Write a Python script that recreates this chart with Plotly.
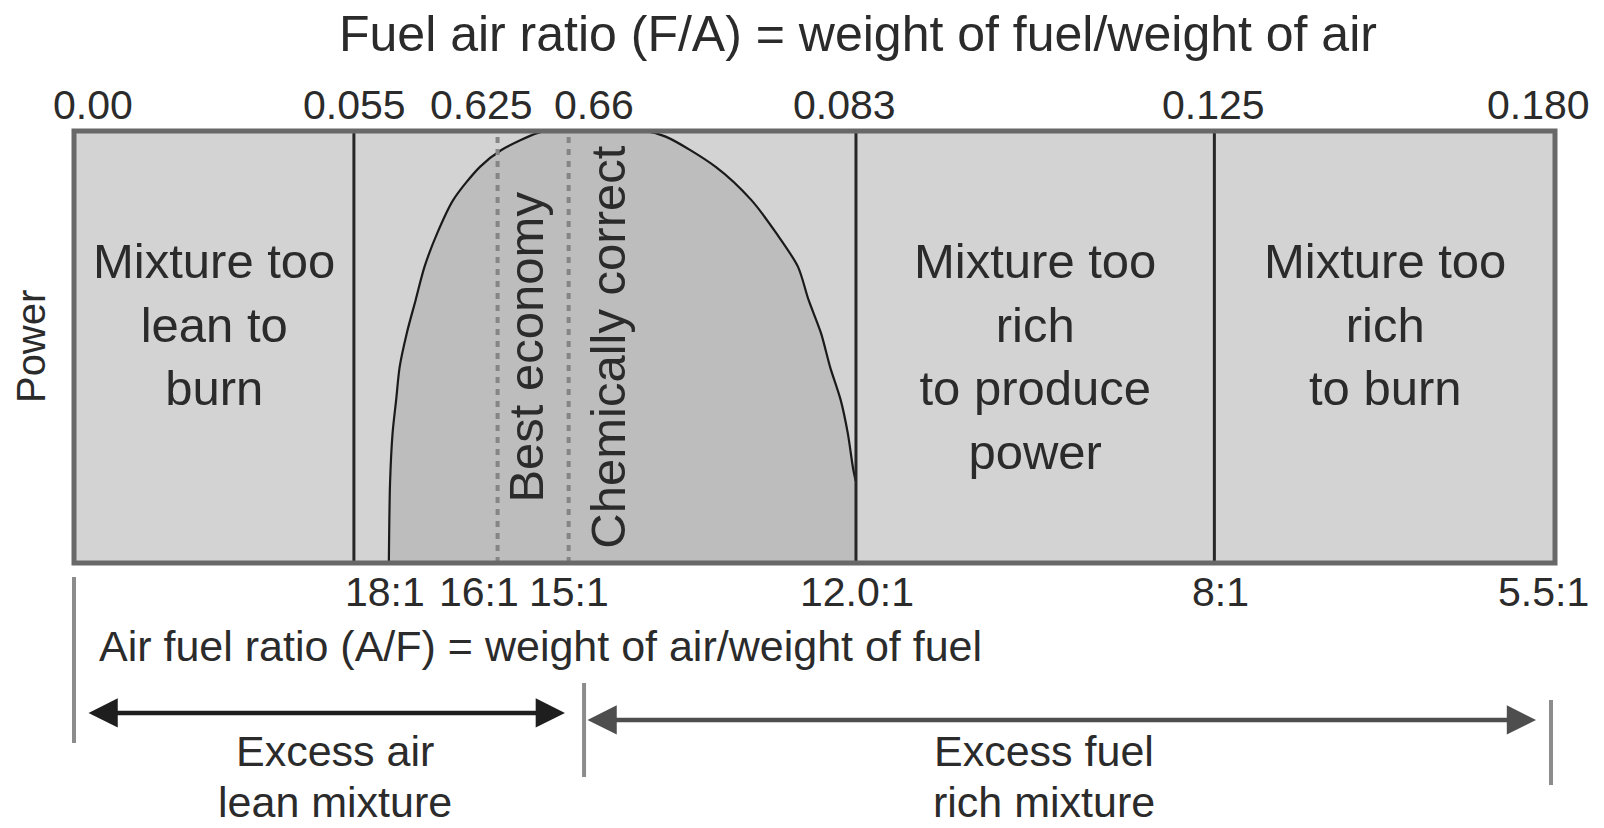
import plotly.graph_objects as go

# ---------------- data ----------------
# zone boundaries along the schematic mixture axis (fraction of the bar width)
boundary_pos = [0.0, 0.189, 0.286, 0.334, 0.528, 0.770, 1.0]
fa_labels = ["0.00", "0.055", "0.625", "0.66", "0.083", "0.125", "0.180"]
af_labels = ["", "18:1", "16:1", "15:1", "12.0:1", "8:1", "5.5:1"]
solid_idx = [1, 4, 5]
dotted_idx = [2, 3]

# power curve (schematic x fraction, relative power)
power_x = [0.2126, 0.2134, 0.2151, 0.2175, 0.2199, 0.2247, 0.2307, 0.2367, 0.2452,
           0.2560, 0.2741, 0.2886, 0.3127, 0.3200, 0.3851, 0.3995, 0.4333, 0.4574,
           0.4743, 0.4888, 0.4960, 0.5044, 0.5105, 0.5177, 0.5225, 0.5260, 0.5278]
power_y = [0.000, 0.185, 0.300, 0.377, 0.454, 0.532, 0.609, 0.686, 0.763,
           0.840, 0.917, 0.956, 0.995, 1.000, 1.000, 0.987, 0.917, 0.840,
           0.763, 0.686, 0.609, 0.532, 0.454, 0.377, 0.300, 0.220, 0.190]

zone_texts = ["Mixture too<br>lean to<br>burn",
              "Mixture too<br>rich<br>to produce<br>power",
              "Mixture too<br>rich<br>to burn"]
zone_bounds = [(0, 1), (4, 5), (5, 6)]
zone_text_y = [0.552, 0.477, 0.551]

line_texts = ["Best economy", "Chemically correct"]

lean_range = [0.0088, 0.3315]
rich_range = [0.3457, 0.9872]
range_texts = [("Excess air", "lean mixture"), ("Excess fuel", "rich mixture")]
range_text_x = [0.1762, 0.655]

# ---------------- style ----------------
FONT = "Liberation Sans, Arial, Helvetica, sans-serif"
TXT = "#2b2b2b"
top_shift = [19, 1, -16, 25, -11, -1, -17]
bot_shift = [0, 31, -19, 0, 1, 6, -12]

fig = go.Figure()
fig.add_trace(go.Scatter(
    x=power_x, y=power_y, mode="lines", fill="tozeroy",
    fillcolor="#bdbdbd", line=dict(color="#1a1a1a", width=2.2, shape="spline", smoothing=0.8),
    hoverinfo="skip", showlegend=False))

shapes = []
for i in solid_idx:
    shapes.append(dict(type="line", xref="x", yref="y", x0=boundary_pos[i], x1=boundary_pos[i],
                       y0=0, y1=1, line=dict(color="#262626", width=3), layer="above"))
for i in dotted_idx:
    shapes.append(dict(type="line", xref="x", yref="y", x0=boundary_pos[i], x1=boundary_pos[i],
                       y0=0, y1=1, line=dict(color="#858585", width=4, dash="6px,6px"), layer="above"))
# frame
shapes.append(dict(type="rect", xref="paper", yref="paper", x0=0, x1=1, y0=0, y1=1,
                   line=dict(color="#686868", width=5), layer="above"))
# grey range markers below the bar
for xv, y0, y1 in [(0.0, -0.0324, -0.4167), (0.3444, -0.2778, -0.4954), (0.9973, -0.3171, -0.5139)]:
    shapes.append(dict(type="line", xref="paper", yref="paper", x0=xv, x1=xv, y0=y0, y1=y1,
                       line=dict(color="#8c8c8c", width=4)))

ann = []
ann.append(dict(text="Fuel air ratio (F/A) = weight of fuel/weight of air", xref="paper", yref="paper",
                x=0.5294, y=1.225, showarrow=False, xanchor="center", yanchor="middle",
                font=dict(size=50, color=TXT, family=FONT)))
for p, lab, s in zip(boundary_pos, fa_labels, top_shift):
    ann.append(dict(text=lab, xref="x", yref="paper", x=p, y=1.060, xshift=s, showarrow=False,
                    xanchor="center", yanchor="middle", font=dict(size=41, color=TXT, family=FONT)))
for p, lab, s in zip(boundary_pos, af_labels, bot_shift):
    if lab:
        ann.append(dict(text=lab, xref="x", yref="paper", x=p, y=-0.068, xshift=s, showarrow=False,
                        xanchor="center", yanchor="middle", font=dict(size=41, color=TXT, family=FONT)))
ann.append(dict(text="Air fuel ratio (A/F) = weight of air/weight of fuel", xref="paper", yref="paper",
                x=0.0155, y=-0.192, showarrow=False, xanchor="left", yanchor="middle",
                font=dict(size=43, color=TXT, family=FONT)))
ann.append(dict(text="Power", xref="paper", yref="paper", x=-0.029, y=0.5, textangle=-90,
                showarrow=False, xanchor="center", yanchor="middle",
                font=dict(size=40, color=TXT, family=FONT)))
for t, (a, b), yv in zip(zone_texts, zone_bounds, zone_text_y):
    ann.append(dict(text=t, xref="x", yref="paper", x=(boundary_pos[a] + boundary_pos[b]) / 2, y=yv,
                    showarrow=False, xanchor="center", yanchor="middle", align="center",
                    font=dict(size=49, color=TXT, family=FONT)))
for t, i, s in zip(line_texts, dotted_idx, [28, 39]):
    ann.append(dict(text=t, xref="x", yref="paper", x=boundary_pos[i], y=0.5, xshift=s, textangle=-90,
                    showarrow=False, xanchor="center", yanchor="middle",
                    font=dict(size=49, color=TXT, family=FONT)))
# arrows
for rng, yv, col in [(lean_range, -0.3472, "#1e1e1e"), (rich_range, -0.3634, "#4e4e4e")]:
    ann.append(dict(text="", xref="x", yref="paper", x=rng[1], y=yv, axref="x", ayref="pixel",
                    ax=rng[0], ay=0, showarrow=True, arrowside="end+start", arrowhead=2,
                    startarrowhead=2, arrowsize=1.3, startarrowsize=1.3, arrowwidth=4.5,
                    arrowcolor=col, standoff=0, startstandoff=0))
for (l1, l2), xv in zip(range_texts, range_text_x):
    ann.append(dict(text=l1, xref="paper", yref="paper", x=xv, y=-0.4352,
                    showarrow=False, xanchor="center", yanchor="middle",
                    font=dict(size=43, color=TXT, family=FONT)))
    ann.append(dict(text=l2, xref="paper", yref="paper", x=xv, y=-0.5532,
                    showarrow=False, xanchor="center", yanchor="middle",
                    font=dict(size=43, color=TXT, family=FONT)))

fig.update_layout(
    width=1604, height=828, autosize=False,
    margin=dict(l=74, r=49, t=131, b=265, pad=0),
    paper_bgcolor="white", plot_bgcolor="#d3d3d3",
    xaxis=dict(range=[0, 1], visible=False, fixedrange=True),
    yaxis=dict(range=[0, 1], visible=False, fixedrange=True),
    shapes=shapes, annotations=ann, showlegend=False,
)
fig.write_html("out.html", config={"displayModeBar": False},
               post_script="document.body.style.margin='0px';document.body.style.overflow='hidden';")
